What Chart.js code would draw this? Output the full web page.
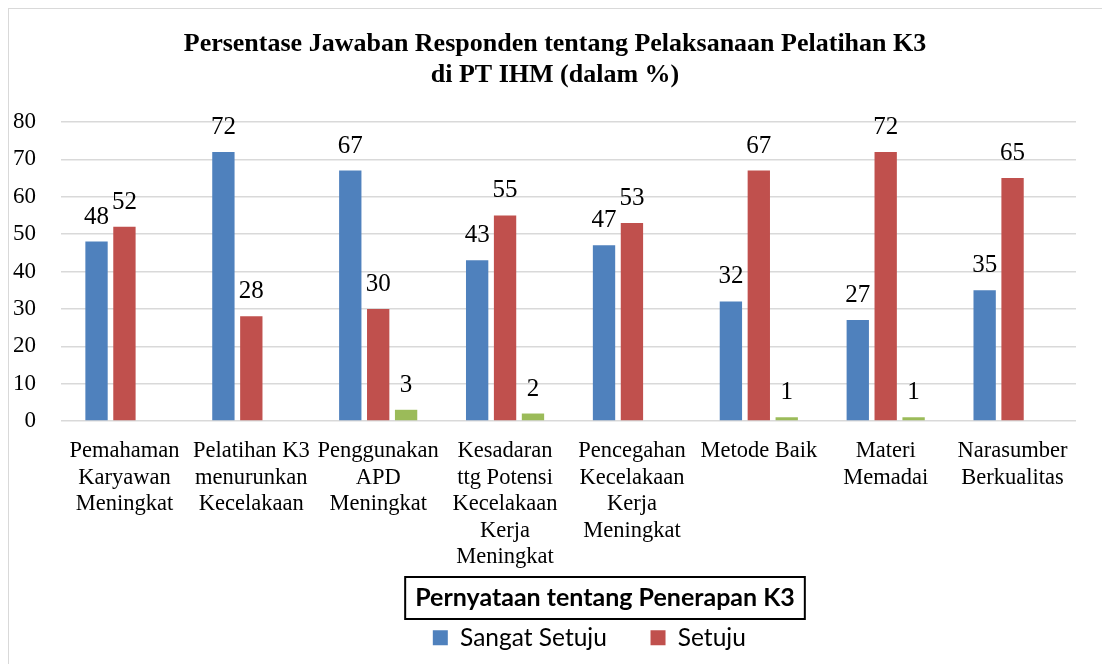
<!DOCTYPE html>
<html>
<head>
<meta charset="utf-8">
<script src="https://cdn.jsdelivr.net/npm/chart.js@4.4.0/dist/chart.umd.min.js"></script>
<style>
    html, body { margin: 0; padding: 0; background: #fff; }
    #frame { position: absolute; left: 8px; top: 8px; width: 1200px; height: 800px; border: 1.5px solid #d9d9d9; }
    #wrap { position: absolute; left: 0; top: 0; width: 1102px; height: 664px; }
</style>
</head>
<body>
<div id="frame"></div>
<div id="wrap"><canvas id="chart"></canvas></div>
<script>
// Categories (already split into lines as in the original)
const categories = [
    ['Pemahaman', 'Karyawan', 'Meningkat'],
    ['Pelatihan K3', 'menurunkan', 'Kecelakaan'],
    ['Penggunakan', 'APD', 'Meningkat'],
    ['Kesadaran', 'ttg Potensi', 'Kecelakaan', 'Kerja', 'Meningkat'],
    ['Pencegahan', 'Kecelakaan', 'Kerja', 'Meningkat'],
    ['Metode Baik'],
    ['Materi', 'Memadai'],
    ['Narasumber', 'Berkualitas']
];
const sangatSetuju = [48, 72, 67, 43, 47, 32, 27, 35];
const setuju = [52, 28, 30, 55, 53, 67, 72, 65];
const tidakSetuju = [0, 0, 3, 2, 0, 1, 1, 0];
const yTicks = [0, 10, 20, 30, 40, 50, 60, 70, 80];

const SERIF = '"Liberation Serif", "DejaVu Serif", serif';
const SANS = 'Lato, "Liberation Sans", sans-serif';
const LEGEND_TITLE = 'Pernyataan tentang Penerapan K3';
const LEGEND_TITLE_FONT = { family: SANS, size: 25, weight: 'bold', lineHeight: 1.2 };
const X_LINE = 26.5;

// Value labels above the bars (zeros are not shown)
const valueLabels = {
    id: 'valueLabels',
    afterDatasetsDraw(chart) {
        const ctx = chart.ctx;
        ctx.save();
        ctx.font = '25px ' + SERIF;
        ctx.fillStyle = '#000';
        ctx.textAlign = 'center';
        ctx.textBaseline = 'alphabetic';
        chart.data.datasets.forEach((ds, i) => {
            chart.getDatasetMeta(i).data.forEach((bar, j) => {
                if (!ds.data[j]) return;
                ctx.fillText(String(ds.data[j]), bar.x, bar.y - 18);
            });
        });
        ctx.restore();
    }
};

// Nudge title and legend to the right and draw a frame around the legend title
const legendTitleBox = {
    id: 'legendTitleBox',
    afterLayout(chart) {
        chart.titleBlock.left += 17;
        chart.titleBlock.right += 17;
        chart.legend.left += 67;
        chart.legend.right += 67;
    },
    afterDraw(chart) {
        const legend = chart.legend;
        const ctx = chart.ctx;
        ctx.save();
        ctx.font = 'bold 25px ' + SANS;
        const w = ctx.measureText(LEGEND_TITLE).width;
        const cx = (legend.left + legend.right) / 2;
        const cy = legend.top + legend.options.title.padding.top + LEGEND_TITLE_FONT.size / 2;
        ctx.strokeStyle = '#000';
        ctx.lineWidth = 2;
        ctx.strokeRect(cx - w / 2 - 10, cy - 21, w + 20, 42);
        ctx.restore();
    }
};

new Chart(document.getElementById('chart'), {
    type: 'bar',
    data: {
        labels: categories,
        datasets: [
            { label: 'Sangat Setuju', data: sangatSetuju, backgroundColor: '#4F81BD' },
            { label: 'Setuju', data: setuju, backgroundColor: '#C0504D' },
            { label: 'Tidak Setuju', data: tidakSetuju, backgroundColor: '#9BBB59' }
        ]
    },
    options: {
        responsive: true,
        maintainAspectRatio: false,
        animation: false,
        categoryPercentage: 0.66,
        barPercentage: 0.8,
        layout: { padding: { left: 0, right: 26, top: 0, bottom: 4 } },
        scales: {
            x: {
                grid: { display: false, drawTicks: false },
                border: { display: false },
                afterFit(scale) {
                    scale.height = 17 + 5 * X_LINE;
                },
                ticks: {
                    color: '#000',
                    font: { family: SERIF, size: 22.5, lineHeight: X_LINE / 22.5 },
                    padding: 17,
                    maxRotation: 0,
                    autoSkip: false
                }
            },
            y: {
                min: 0,
                max: 80,
                afterBuildTicks(scale) {
                    scale.ticks = yTicks.map(v => ({ value: v }));
                },
                afterFit(scale) {
                    scale.width = 61;
                },
                grid: { color: '#d9d9d9', lineWidth: 1.5, drawTicks: false },
                border: { display: false },
                ticks: {
                    color: '#000',
                    font: { family: SERIF, size: 23 },
                    padding: 25
                }
            }
        },
        plugins: {
            title: {
                display: true,
                text: ['Persentase Jawaban Responden tentang Pelaksanaan Pelatihan K3', 'di PT IHM (dalam %)'],
                color: '#000',
                font: { family: SERIF, size: 26, weight: 'bold', lineHeight: 31 / 26 },
                padding: { top: 28.5, bottom: 31.5 }
            },
            legend: {
                position: 'bottom',
                title: {
                    display: true,
                    text: LEGEND_TITLE,
                    color: '#000',
                    font: LEGEND_TITLE_FONT,
                    padding: { top: 15, bottom: 4 }
                },
                labels: {
                    color: '#000',
                    boxWidth: 15,
                    boxHeight: 15,
                    padding: 6,
                    font: { family: SANS, size: 24.5 },
                    generateLabels(chart) {
                        const items = Chart.defaults.plugins.legend.labels.generateLabels(chart);
                        return items
                            .filter(it => it.datasetIndex < 2)
                            .map(it => {
                                // trailing spaces widen the entries like the original spacing
                                it.text = it.text + (it.datasetIndex === 0 ? '      ' : '     ');
                                it.lineWidth = 0;
                                return it;
                            });
                    }
                }
            },
            tooltip: { enabled: false }
        }
    },
    plugins: [valueLabels, legendTitleBox]
});
</script>
</body>
</html>
